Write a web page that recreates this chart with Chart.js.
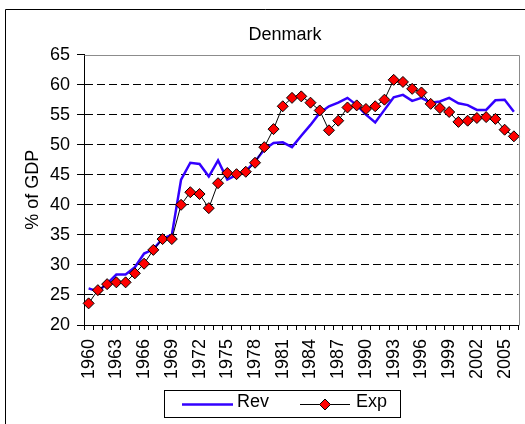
<!DOCTYPE html>
<html><head><meta charset="utf-8">
<script src="https://cdn.jsdelivr.net/npm/chart.js@4/dist/chart.umd.min.js"></script>
<style>html,body{margin:0;padding:0;background:#fff}canvas{display:block}</style>
</head><body>
<canvas id="c" width="525" height="424"></canvas>
<script>
const years = ['1960','1961','1962','1963','1964','1965','1966','1967','1968','1969',
  '1970','1971','1972','1973','1974','1975','1976','1977','1978','1979',
  '1980','1981','1982','1983','1984','1985','1986','1987','1988','1989',
  '1990','1991','1992','1993','1994','1995','1996','1997','1998','1999',
  '2000','2001','2002','2003','2004','2005','2006'];
const revValues = [26.1, 25.6, 26.9, 28.4, 28.4, 29.6, 31.9, 32.6, 34.4, 35.0,
  44.2, 47.0, 46.8, 44.7, 47.4, 44.2, 45.0, 45.6, 47.2, 49.2,
  50.3, 50.4, 49.6, 51.5, 53.3, 55.3, 56.4, 57.0, 57.8, 56.6,
  55.0, 53.7, 55.8, 57.9, 58.3, 57.3, 57.8, 57.0, 57.2, 57.8,
  56.9, 56.6, 55.8, 55.8, 57.4, 57.5, 55.5];
const expValues = [23.6, 25.8, 26.8, 27.1, 27.1, 28.6, 30.2, 32.5, 34.3, 34.3,
  40.0, 42.1, 41.8, 39.45, 43.6, 45.3, 45.1, 45.5, 47.0, 49.6,
  52.6, 56.4, 57.8, 58.05, 57.0, 55.7, 52.4, 54.0, 56.2, 56.55,
  55.95, 56.4, 57.5, 60.8, 60.45, 59.3, 58.7, 56.8, 56.1, 55.45,
  53.8, 54.0, 54.45, 54.6, 54.3, 52.5, 51.4];
const seriesNames = ['Rev', 'Exp'];
const chartTitle = 'Denmark';
const yAxisTitle = '% of GDP';

const FONT = 'Liberation Sans, Arial, sans-serif';
Chart.defaults.font.family = FONT;
Chart.defaults.font.size = 18;
Chart.defaults.color = '#000';

const framePlugin = {
  id: 'framePlugin',
  afterLayout(chart) {
    const t = chart.titleBlock;
    if (t) { t.left = 45; t.right = 525; t.width = 480; }
  },
  afterDraw(chart) {
    const ctx = chart.ctx;
    const a = chart.chartArea;
    ctx.save();
    // plot area border (top/right gray)
    ctx.strokeStyle = '#8c8c8c';
    ctx.lineWidth = 1;
    ctx.beginPath();
    ctx.moveTo(Math.round(a.left) + 0.5, Math.round(a.top) + 0.5);
    ctx.lineTo(Math.round(a.right) + 0.5, Math.round(a.top) + 0.5);
    ctx.lineTo(Math.round(a.right) + 0.5, Math.round(a.bottom) + 0.5);
    ctx.stroke();
    // outer frame
    ctx.strokeStyle = '#000';
    ctx.beginPath();
    ctx.moveTo(5.5, 424);
    ctx.lineTo(5.5, 9.5);
    ctx.lineTo(525, 9.5);
    ctx.stroke();
    // legend
    const ds = chart.data.datasets;
    ctx.strokeRect(164.5, 390.5, 236, 27);
    const ly = 404.5;
    ctx.font = '18px ' + FONT;
    ctx.textBaseline = 'middle';
    ctx.fillStyle = '#000';
    // Rev
    ctx.strokeStyle = ds[0].borderColor;
    ctx.lineWidth = ds[0].borderWidth;
    ctx.beginPath(); ctx.moveTo(182, ly); ctx.lineTo(233, ly); ctx.stroke();
    ctx.fillText(ds[0].label, 237, 402);
    // Exp
    ctx.strokeStyle = ds[1].borderColor;
    ctx.lineWidth = ds[1].borderWidth;
    ctx.beginPath(); ctx.moveTo(300, ly); ctx.lineTo(350, ly); ctx.stroke();
    const r = ds[1].pointRadius;
    ctx.beginPath();
    ctx.moveTo(325 - r, ly); ctx.lineTo(325, ly - r); ctx.lineTo(325 + r, ly); ctx.lineTo(325, ly + r); ctx.closePath();
    ctx.fillStyle = ds[1].pointBackgroundColor; ctx.fill();
    ctx.strokeStyle = ds[1].pointBorderColor; ctx.lineWidth = 1; ctx.stroke();
    ctx.fillStyle = '#000';
    ctx.fillText(ds[1].label, 356, 402);
    ctx.restore();
  }
};

new Chart(document.getElementById('c'), {
  type: 'line',
  data: {
    labels: years,
    datasets: [
      { label: seriesNames[0], data: revValues, borderColor: '#3300ff', borderWidth: 2.5,
        pointRadius: 0, tension: 0, fill: false, order: 1 },
      { label: seriesNames[1], data: expValues, borderColor: '#000', borderWidth: 1,
        pointStyle: 'rectRot', pointRadius: 5.5, pointBackgroundColor: '#ff0000',
        pointBorderColor: '#000', pointBorderWidth: 1, tension: 0, fill: false, order: 0 }
    ]
  },
  options: {
    responsive: false,
    animation: false,
    events: [],
    devicePixelRatio: 1,
    layout: { padding: { left: 0, right: 6.5, top: 0, bottom: 39 } },
    plugins: {
      legend: { display: false },
      tooltip: { enabled: false },
      title: { display: true, text: chartTitle, color: '#000',
        font: { family: FONT, size: 18, weight: 'normal' }, padding: { top: 24, bottom: 9 } }
    },
    scales: {
      x: {
        offset: true,
        grid: { offset: true, drawOnChartArea: false, drawTicks: true, tickLength: 5,
          color: '#000', tickColor: '#000' },
        border: { display: true, color: '#000', width: 1 },
        ticks: { autoSkip: false, maxRotation: 90, minRotation: 90, padding: 9, color: '#000',
          font: { size: 18 },
          callback: (v, i) => (i % 3 === 0 ? years[i] : '') },
        afterFit: (s) => { s.height = 60; s.paddingRight = 0; s.paddingLeft = 0; }
      },
      y: {
        min: 20, max: 65,
        ticks: { stepSize: 5, padding: 7, color: '#000', font: { size: 18 } },
        grid: { drawTicks: true, tickLength: 7, tickColor: '#000',
          color: (c) => (c.tick && (c.tick.value === 65 || c.tick.value === 20)) ? 'rgba(0,0,0,0)' : '#000' },
        border: { display: true, color: '#000', width: 1, dash: [8, 4] },
        title: { display: true, text: yAxisTitle, color: '#000', font: { size: 18 },
          padding: { top: 22, bottom: 0 } },
        afterFit: (s) => { s.width = 84; }
      }
    }
  },
  plugins: [framePlugin]
});
</script>
</body></html>
